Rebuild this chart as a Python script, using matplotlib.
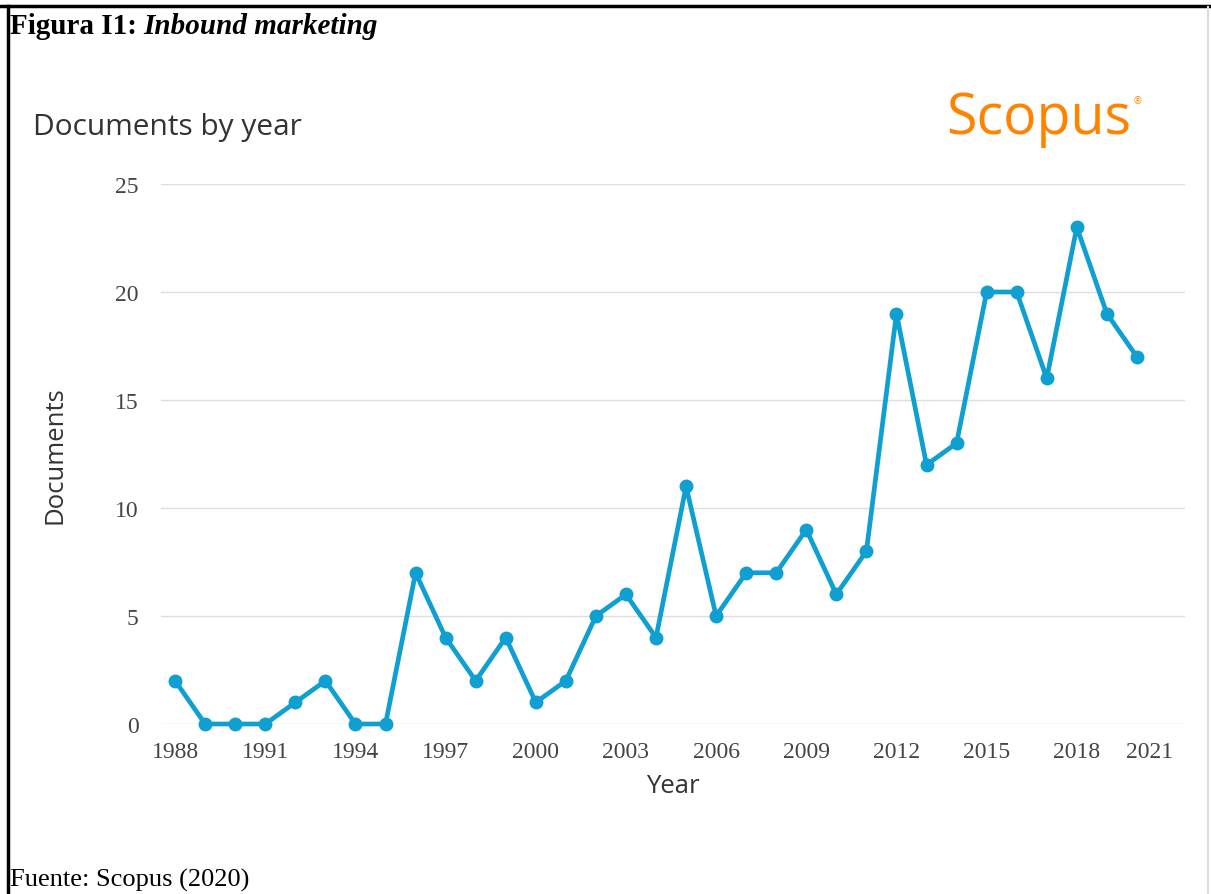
import matplotlib
matplotlib.use('Agg')
import matplotlib.pyplot as plt
import matplotlib.transforms as mtransforms
from matplotlib.lines import Line2D

years = list(range(1988, 2021))
documents = [2, 0, 0, 0, 1, 2, 0, 0, 7, 4, 2, 4, 1, 2, 5, 6, 4, 11, 5, 7, 7, 9, 6, 8,
             19, 12, 13, 20, 20, 16, 23, 19, 17]
x_ticks = list(range(1988, 2022, 3))
y_ticks = [0, 5, 10, 15, 20, 25]

blue = '#0f9fd0'
grey_text = '#444444'

fig = plt.figure(figsize=(12.11, 8.95), dpi=100)
ax = fig.add_axes([161 / 1211, 170 / 895, (1185 - 161) / 1211, 540 / 895])

ax.plot(years, documents, color=blue, linewidth=3.4, marker='o', markersize=9,
        clip_on=False, zorder=3)

ax.set_xlim(1987.53, 2021.6)
ax.set_ylim(0, 25)
ax.set_xticks(x_ticks)
ax.set_yticks(y_ticks)
ax.grid(axis='y', color='#dddddd', linewidth=1)
ax.set_axisbelow(True)
for s in ax.spines.values():
    s.set_visible(False)
ax.tick_params(length=0, labelsize=17, labelcolor=grey_text)
for lab in ax.get_xticklabels() + ax.get_yticklabels():
    lab.set_family('Liberation Serif')
ax.tick_params(axis='x', pad=12)
ax.tick_params(axis='y', pad=16)
# last year label is pulled left so it stays inside the plot
last = ax.get_xticklabels()[-1]
last.set_transform(last.get_transform() + mtransforms.ScaledTranslation(-17 / 100, 0, fig.dpi_scale_trans))

ax.set_xlabel('Year', fontsize=18.5, family='Open Sans', color='#333333', labelpad=8)
ax.set_ylabel('Documents', fontsize=18.5, family='Open Sans', color='#333333', labelpad=34)

fig.text(33 / 1211, 1 - 127 / 895, 'Documents by year', fontsize=21.5, family='Open Sans',
         color='#333333', va='center')
fig.text(946 / 1211, 1 - 120 / 895, 'Scopus', fontsize=40, family='Open Sans',
         color='#ff8200', va='center')
fig.text(1133 / 1211, 1 - 101 / 895, '®', fontsize=7, family='DejaVu Sans',
         color='#ff8200', va='center')

t1 = fig.text(10 / 1211, 1 - 27 / 895, 'Figura I1:', fontsize=21, family='Liberation Serif',
              weight='bold', va='center')
fig.canvas.draw()
bb = t1.get_window_extent()
fig.text((bb.x1 + 6) / 1211, 1 - 27 / 895, 'Inbound marketing', fontsize=21,
         family='Liberation Serif', weight='bold', style='italic', va='center')
fig.text(10 / 1211, 1 - 880 / 895, 'Fuente: Scopus (2020)', fontsize=19,
         family='Liberation Serif', va='center')

# page frame
fig.add_artist(Line2D([0, 1], [1 - 7 / 895, 1 - 7 / 895], color='black', linewidth=2.5,
                      transform=fig.transFigure))
fig.add_artist(Line2D([8 / 1211, 8 / 1211], [0, 1 - 7 / 895], color='black', linewidth=2.5,
                      transform=fig.transFigure))
fig.add_artist(Line2D([1208 / 1211, 1208 / 1211], [0, 1 - 8 / 895], color='#dddddd', linewidth=1.5,
                      transform=fig.transFigure))

fig.savefig('out.png', dpi=100)
